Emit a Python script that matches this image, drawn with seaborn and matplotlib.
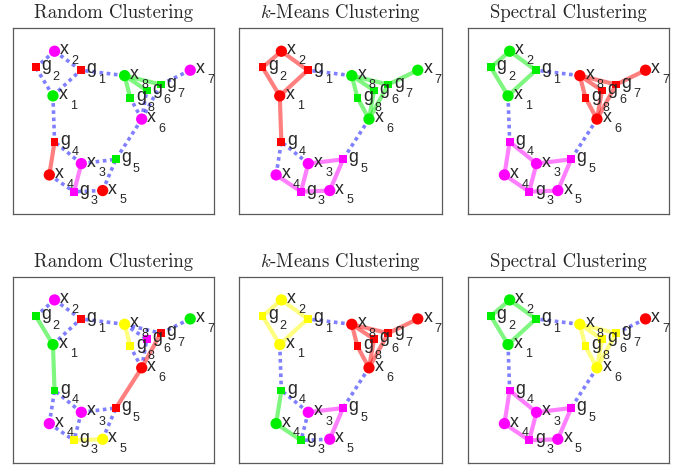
import matplotlib
matplotlib.use("Agg")
import matplotlib.pyplot as plt
import seaborn as sns
import pandas as pd

# ---- data ----
node_names = ["x1", "x2", "x3", "x4", "x5", "x6", "x7", "x8",
              "g1", "g2", "g3", "g4", "g5", "g6", "g7", "g8"]
node_x = [2.00, 2.08, 3.41, 1.82, 4.47, 6.41, 8.82, 5.56,
          3.38, 1.15, 3.05, 2.08, 5.13, 6.66, 7.36, 5.84]
node_y = [6.35, 8.75, 2.71, 2.10, 1.26, 5.10, 7.73, 7.44,
          7.73, 7.88, 1.20, 3.88, 2.94, 6.64, 6.96, 6.25]
edges = [("x1", "g1"), ("x1", "g2"), ("x1", "g4"), ("x2", "g1"), ("x2", "g2"),
         ("x3", "g3"), ("x3", "g4"), ("x3", "g5"), ("x4", "g3"), ("x4", "g4"),
         ("x5", "g3"), ("x5", "g5"), ("x6", "g5"), ("x6", "g6"), ("x6", "g8"),
         ("x6", "g7"), ("x7", "g7"), ("x8", "g1"), ("x8", "g6"), ("x8", "g7"),
         ("x8", "g8")]

titles = ["Random Clustering", r"$k$-Means Clustering", "Spectral Clustering",
          "Random Clustering", r"$k$-Means Clustering", "Spectral Clustering"]
#                x1  x2  x3  x4  x5  x6  x7  x8  g1  g2  g3  g4  g5  g6  g7  g8
clusters_top_random = ["g", "m", "m", "r", "r", "m", "m", "g", "r", "r", "m", "r", "g", "g", "g", "g"]
clusters_top_kmeans = ["r", "r", "m", "m", "m", "g", "g", "g", "r", "r", "m", "r", "m", "g", "g", "g"]
clusters_top_spectral = ["g", "g", "m", "m", "m", "r", "r", "r", "g", "g", "m", "m", "m", "r", "r", "r"]
clusters_bot_random = ["g", "m", "m", "m", "y", "r", "g", "y", "r", "g", "y", "g", "r", "m", "r", "y"]
clusters_bot_kmeans = ["y", "y", "m", "g", "m", "r", "r", "r", "y", "y", "g", "g", "m", "r", "r", "r"]
clusters_bot_spectral = ["g", "g", "m", "m", "m", "y", "r", "y", "g", "g", "m", "m", "m", "y", "y", "y"]
all_clusters = [clusters_top_random, clusters_top_kmeans, clusters_top_spectral,
                clusters_bot_random, clusters_bot_kmeans, clusters_bot_spectral]

palette = {"r": "#ff0000", "g": "#00ee00", "m": "#ff00ff", "y": "#ffff00"}

# ---- style ----
sns.set_style("white")
plt.rcParams["mathtext.fontset"] = "cm"
plt.rcParams["font.family"] = ["cmr10", "DejaVu Serif"]
plt.rcParams["axes.formatter.use_mathtext"] = True

fig = plt.figure(figsize=(6.86, 4.65), dpi=100)
lefts = [0.0185, 0.3488, 0.6818]
widths = [0.2934, 0.2950, 0.2939]
bottoms = [0.5398, 0.005]
height = 0.40

pos = dict(zip(node_names, zip(node_x, node_y)))

for i, (title, clus) in enumerate(zip(titles, all_clusters)):
    r, c = divmod(i, 3)
    ax = fig.add_axes([lefts[c], bottoms[r], widths[c], height])
    cmap = dict(zip(node_names, clus))
    # edges
    for a, b in edges:
        xa, ya = pos[a]
        xb, yb = pos[b]
        if cmap[a] == cmap[b]:
            ax.plot([xa, xb], [ya, yb], color=palette[cmap[a]], alpha=0.5,
                    lw=3.0, solid_capstyle="round", zorder=2)
        else:
            ax.plot([xa, xb], [ya, yb], color="#0000ff", alpha=0.5,
                    lw=2.6, linestyle=(0, (1, 1.0)), dash_capstyle="butt", zorder=1)
    df = pd.DataFrame({"name": node_names, "x": node_x, "y": node_y, "cluster": clus})
    df["kind"] = df["name"].str[0]
    sns.scatterplot(data=df[df.kind == "x"], x="x", y="y", hue="cluster", palette=palette,
                    marker="o", s=66, edgecolor="none", linewidth=0, legend=False,
                    ax=ax, zorder=3)
    sns.scatterplot(data=df[df.kind == "g"], x="x", y="y", hue="cluster", palette=palette,
                    marker="s", s=32, edgecolor="none", linewidth=0, legend=False,
                    ax=ax, zorder=3)
    # labels
    for n, x, y in zip(node_names, node_x, node_y):
        ax.annotate(n[0], xy=(x, y), xytext=(4.0, -2.2), textcoords="offset points",
                    fontsize=12.8, family="Liberation Sans", va="baseline", ha="left",
                    zorder=4)
        ax.annotate(n[1], xy=(x, y), xytext=(12.2, -9.2), textcoords="offset points",
                    fontsize=9.0, family="Liberation Sans", va="baseline", ha="left",
                    zorder=4)
    ax.set_xlim(0, 10)
    ax.set_ylim(0, 10)
    ax.set_xticks([])
    ax.set_yticks([])
    ax.set_xlabel("")
    ax.set_ylabel("")
    for sp in ax.spines.values():
        sp.set_color("#5a5a5a")
        sp.set_linewidth(0.9)
    ax.set_title(title, fontsize=13.5, pad=7.0)

fig.savefig("out.png", dpi=100)
